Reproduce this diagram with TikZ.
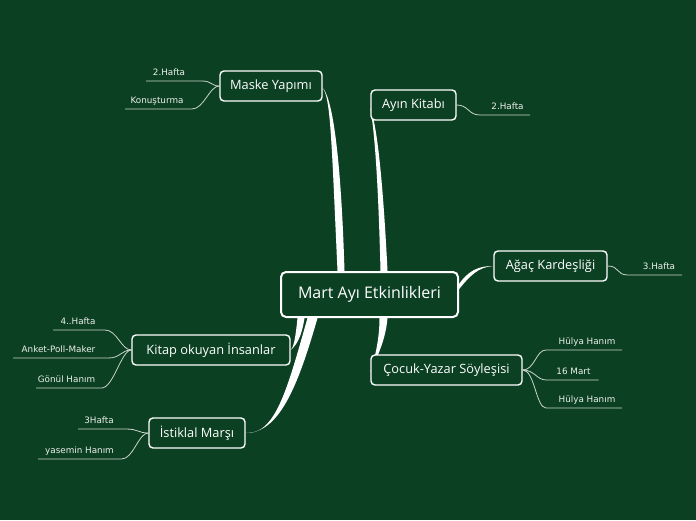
\documentclass[tikz,border=0pt]{standalone}
\usepackage{fontspec}
\setmainfont{Open Sans}
\newfontfamily\leaffont{DejaVu Sans}
\usetikzlibrary{calc}
\definecolor{bg}{RGB}{12,64,34}
\pgfdeclarelayer{back}
\pgfsetlayers{back,main}
\tikzset{
  centralbox/.style={draw=white, line width=2pt, rounded corners=5pt, fill=bg, text=white,
    minimum width=177pt, minimum height=45pt, inner sep=0pt, font=\fontsize{16}{19}\selectfont},
  childbox/.style={draw=white, line width=1.4pt, rounded corners=4pt, fill=bg, text=white,
    minimum height=30pt, inner sep=0pt, font=\fontsize{12.8}{15}\selectfont},
  leaf/.style={text=white!92!bg, inner sep=0pt, font=\leaffont\fontsize{8.8}{10}\selectfont},
  leafline/.style={draw=white!78!bg, line width=0.8pt},
  branch/.style={fill=white},
}
\begin{document}
\begin{tikzpicture}[x=1pt,y=-1pt]
\useasboundingbox (0,0) rectangle (696,520);
% nodes
\node[centralbox] (c) at (369.5,294.5) {Mart Ayı Etkinlikleri};
\node[childbox, minimum width=102pt] (m) at (271,86) {Maske Yapımı};
\node[childbox, minimum width=85pt] (a) at (413.5,105) {Ayın Kitabı};
\node[childbox, minimum width=113pt] (g) at (550.5,266) {Ağaç Kardeşliği};
\node[childbox, minimum width=151pt] (k) at (446.5,370) {Çocuk-Yazar Söyleşisi};
\node[childbox, minimum width=158pt] (t) at (211,350) {Kitap okuyan İnsanlar};
\node[childbox, minimum width=96pt] (i) at (197,433) {İstiklal Marşı};
% leaves
\node[leaf, anchor=base] (m1) at (169,75) {2.Hafta};
\node[leaf, anchor=base] (m2) at (157,103) {Konuşturma};
\node[leaf, anchor=base] (a1) at (507.5,109) {2.Hafta};
\node[leaf, anchor=base] (g1) at (659,269) {3.Hafta};
\node[leaf, anchor=base] (k1) at (587,344) {Hülya Hanım};
\node[leaf, anchor=base] (k2) at (573.5,374) {16 Mart};
\node[leaf, anchor=base] (k3) at (587,402) {Hülya Hanım};
\node[leaf, anchor=base] (t1) at (78,324) {4..Hafta};
\node[leaf, anchor=base] (t2) at (58.5,352) {Anket-Poll-Maker};
\node[leaf, anchor=base] (t3) at (66.5,382) {Gönül Hanım};
\node[leaf, anchor=base] (i1) at (99,423) {3Hafta};
\node[leaf, anchor=base] (i2) at (79.5,453) {yasemin Hanım};
\begin{pgfonlayer}{back}
\fill[bg] (0,0) rectangle (696,520);
% tapered main branches
\fill[branch] ($(c.north)+(-32,0)$) .. controls +(-6,-130) and +(8,10) .. ($(m.east)+(0,2)$)
  .. controls +(8,8) and +(-4,-130) .. ($(c.north)+(-25,0)$) -- cycle;
\fill[branch] ($(c.north)+(11,0)$) .. controls +(-3,-120) and +(2,12) .. ($(a.west)+(0,3)$)
  .. controls +(4,10) and +(-6,-120) .. ($(c.north)+(18,0)$) -- cycle;
\fill[branch] ($(c.east)+(-1,-9)$) .. controls +(10,-15) and +(-15,0) .. (g.west)
  .. controls +(-15,1) and +(12,-15) .. ($(c.east)+(-1,-4)$) -- cycle;
\fill[branch] ($(c.south)+(10,0)$) .. controls +(0,25) and +(3,-10) .. ($(k.west)+(0,2)$)
  .. controls +(4,-10) and +(-2,25) .. ($(c.south)+(18,0)$) -- cycle;
\fill[branch] ($(c.south)+(-72,0)$) .. controls +(-2,20) and +(3,-3) .. (t.east)
  .. controls +(5,-4) and +(-3,20) .. ($(c.south)+(-65,0)$) -- cycle;
\fill[branch] ($(c.south)+(-62,0)$) .. controls +(-20,70) and +(30,2) .. (i.east)
  .. controls +(33,0) and +(-20,70) .. ($(c.south)+(-52,0)$) -- cycle;
% leaf connectors
\draw[leafline] ($(m1.base)+(-23,6)$) -- ($(m1.base)+(33,6)$) .. controls +(10,0) and +(-8,0) .. (m.west);
\draw[leafline] ($(m2.base)+(-32,6)$) -- ($(m2.base)+(35,6)$) .. controls +(12,0) and +(-10,0) .. (m.west);
\draw[leafline] (a.east) .. controls +(12,0) and +(-12,0) .. ($(a1.base)+(-27.5,6)$) -- ($(a1.base)+(22.5,6)$);
\draw[leafline] (g.east) .. controls +(12,0) and +(-12,0) .. ($(g1.base)+(-31,6)$) -- ($(g1.base)+(23,6)$);
\draw[leafline] (k.east) .. controls +(12,0) and +(-10,0) .. ($(k1.base)+(-41,6)$) -- ($(k1.base)+(35,6)$);
\draw[leafline] (k.east) .. controls +(12,0) and +(-10,0) .. ($(k2.base)+(-27,6)$) -- ($(k2.base)+(25,6)$);
\draw[leafline] (k.east) .. controls +(12,0) and +(-10,0) .. ($(k3.base)+(-41,6)$) -- ($(k3.base)+(35,6)$);
\draw[leafline] ($(t1.base)+(-25,6)$) -- ($(t1.base)+(27,6)$) .. controls +(12,0) and +(-10,0) .. (t.west);
\draw[leafline] ($(t2.base)+(-45.5,6)$) -- ($(t2.base)+(50,6)$) .. controls +(12,0) and +(-10,0) .. (t.west);
\draw[leafline] ($(t3.base)+(-30.5,6)$) -- ($(t3.base)+(35,6)$) .. controls +(12,0) and +(-10,0) .. (t.west);
\draw[leafline] ($(i1.base)+(-21,6)$) -- ($(i1.base)+(27,6)$) .. controls +(12,0) and +(-10,0) .. (i.west);
\draw[leafline] ($(i2.base)+(-41.5,6)$) -- ($(i2.base)+(42,6)$) .. controls +(12,0) and +(-10,0) .. (i.west);
\end{pgfonlayer}
\end{tikzpicture}
\end{document}
